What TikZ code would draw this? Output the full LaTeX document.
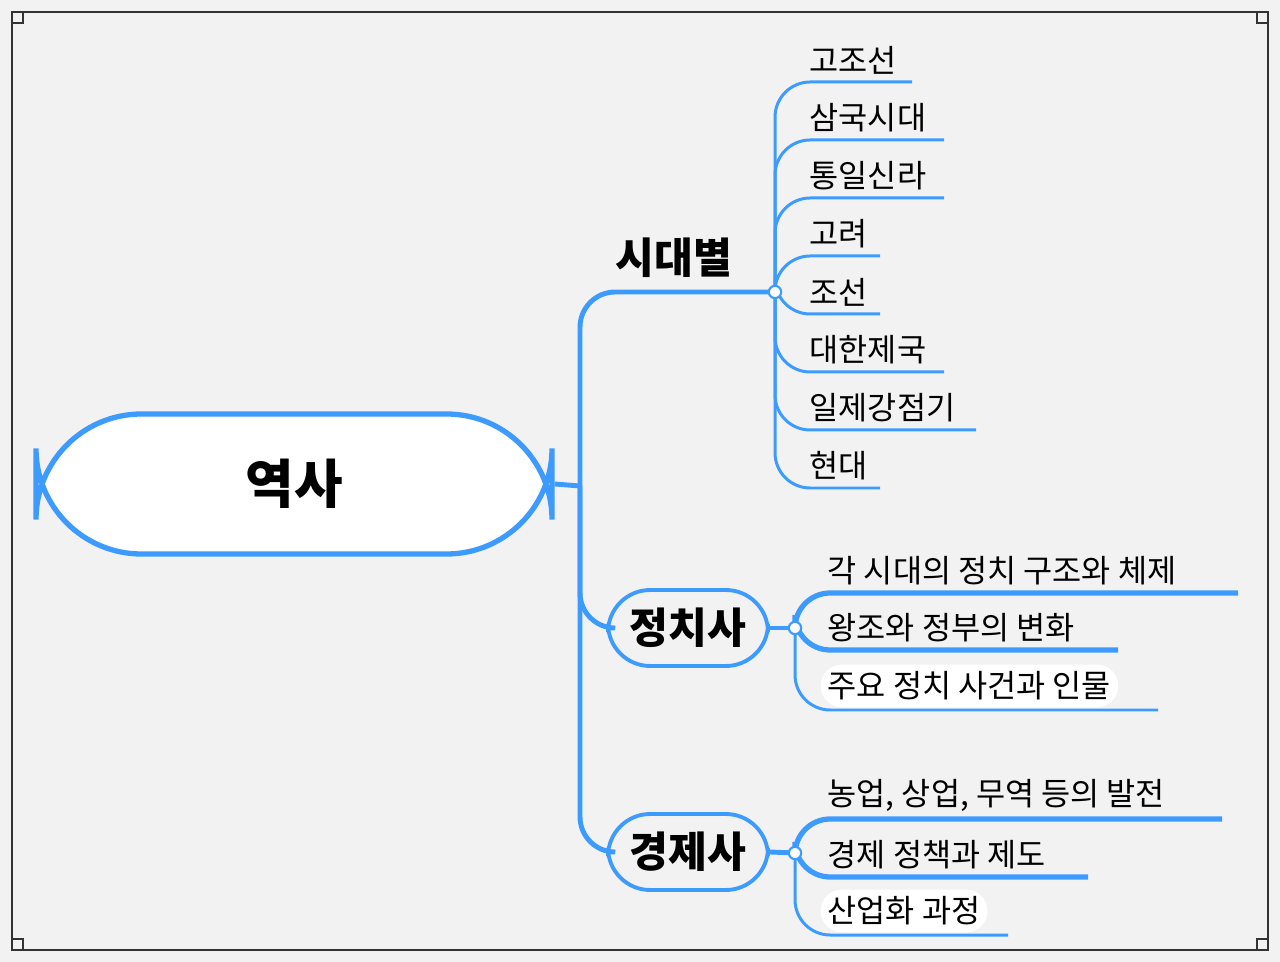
\documentclass[tikz,border=0pt]{standalone}
\usepackage{fontspec}
\setmainfont{Noto Sans CJK KR}
\definecolor{bl}{HTML}{3D9BFF}
\definecolor{bg}{HTML}{F2F2F2}
\begin{document}
\begin{tikzpicture}[x=0.01cm,y=-0.01cm,
  root/.style={draw=bl,line width=1.5pt,rounded corners=30,fill=white,minimum width=516*0.01cm,minimum height=140*0.01cm,font=\fontsize{15}{18}\bfseries\selectfont},
  mainbox/.style={draw=bl,line width=1.1pt,rounded corners=12,fill=bg,minimum width=160*0.01cm,minimum height=76*0.01cm,font=\fontsize{12}{14}\bfseries\selectfont},
  leaf/.style={anchor=south west,inner sep=2pt,font=\fontsize{9}{11}\selectfont},
  trunk/.style={bl,line width=1.4pt,rounded corners=10},
  twig/.style={bl,line width=0.85pt,rounded corners=10},
  thick twig/.style={bl,line width=1.5pt,rounded corners=10},
  knot/.style={circle,draw=bl,fill=white,line width=0.6pt,inner sep=0pt,minimum size=3.5pt}]
\fill[bg] (0,0) rectangle (1280,962);
\useasboundingbox (0,0) rectangle (1280,962);
\draw[line width=0.7pt,black!80] (12,12) rectangle (1268,950);
\foreach \p/\q in {12/12,1268/12,12/950,1268/950}{
  \draw[line width=0.6pt,black!80] (\p-0,\q-0) ++(-0,-0) rectangle ++({\p<600?11:-11},{\q<400?11:-11});}
% trunk
\node[root] (root) at (294,484) {역사};
\coordinate (tr) at (580,486);
\node[mainbox] (p) at (688,628) {정치사};
\node[mainbox] (e) at (688,852) {경제사};
\coordinate (s) at (775,292);
\node[font=\fontsize{12}{14}\bfseries\selectfont] (sl) at (674,258) {시대별};
\draw[trunk] (root.east) -- (tr);
\draw[trunk] (tr) |- (s);
\draw[trunk] (tr) |- (p.west);
\draw[trunk] (tr) |- (e.west);
% 시대별 children
\foreach \t/\y/\xe [count=\i] in {고조선/82/912,삼국시대/140/944,통일신라/198/944,고려/256/880,조선/314/880,대한제국/372/944,일제강점기/430/976,현대/488/880}{
  \coordinate (a\i) at (\xe,\y);
  \draw[twig] (s) |- (a\i);
  \node[leaf] (t\i) at (802,\y) {\t};
}
\node[knot] (ks) at (s) {};
% 정치사 children
\coordinate (pc) at (795,628);
\draw[trunk] (p.east) -- (pc);
\coordinate (pa1) at (1238,593); \coordinate (pa2) at (1118,650); \coordinate (pa3) at (1158,710);
\draw[thick twig] (pc) |- (pa1);
\draw[thick twig] (pc) |- (pa2);
\draw[twig] (pc) |- (pa3);
\node[leaf] (pt1) at (820,593) {각 시대의 정치 구조와 체제};
\node[leaf] (pt2) at (820,650) {왕조와 정부의 변화};
\node[leaf,fill=white,rounded corners=6] (pt3) at (820,708) {주요 정치 사건과 인물};
\node[knot] (kp) at (pc) {};
% 경제사 children
\coordinate (ec) at (795,853);
\draw[trunk] (e.east) -- (ec);
\coordinate (ea1) at (1222,819); \coordinate (ea2) at (1088,877); \coordinate (ea3) at (1008,935);
\draw[thick twig] (ec) |- (ea1);
\draw[thick twig] (ec) |- (ea2);
\draw[twig] (ec) |- (ea3);
\node[leaf] (et1) at (820,819) {농업, 상업, 무역 등의 발전};
\node[leaf] (et2) at (820,877) {경제 정책과 제도};
\node[leaf,fill=white,rounded corners=6] (et3) at (820,933) {산업화 과정};
\node[knot] (ke) at (ec) {};
\end{tikzpicture}
\end{document}
